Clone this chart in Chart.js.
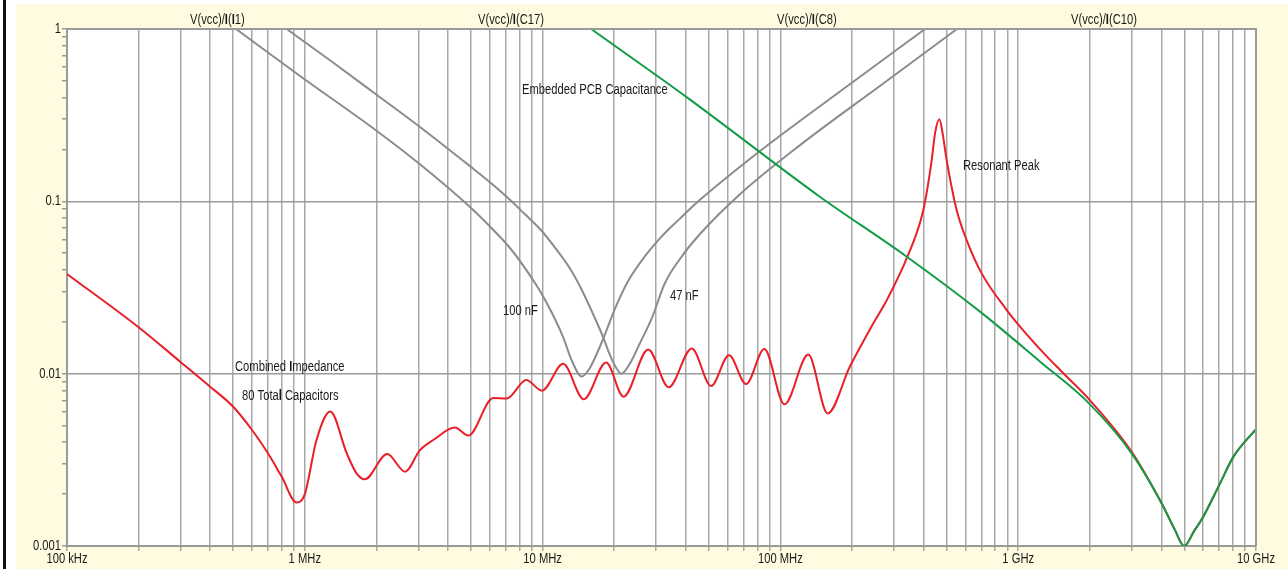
<!DOCTYPE html>
<html>
<head>
<meta charset="utf-8">
<script src="https://cdn.jsdelivr.net/npm/chart.js@4/dist/chart.umd.min.js"></script>
<style>
  html, body { margin: 0; padding: 0; background: #fff; }
  #wrap { position: relative; width: 1288px; height: 569px; }
</style>
</head>
<body>
<div id="wrap"><canvas id="chart"></canvas></div>
<script>
// ── Data (frequency in Hz, impedance in ohms) ─────────────────────────
const redFreq = [1.00e5, 2.00e5, 3.00e5, 4.00e5, 5.00e5, 6.00e5, 7.00e5, 8.00e5, 9.23e5, 1.00e6,
  1.12e6, 1.28e6, 1.50e6, 1.65e6, 1.79e6, 2.22e6, 2.64e6, 3.05e6, 3.47e6, 4.28e6,
  4.87e6, 6.20e6, 7.06e6, 8.54e6, 9.94e6, 1.22e7, 1.49e7, 1.85e7, 2.19e7, 2.78e7,
  3.39e7, 4.24e7, 5.11e7, 6.08e7, 7.17e7, 8.56e7, 1.04e8, 1.31e8, 1.58e8, 1.96e8,
  2.46e8, 2.80e8, 3.42e8, 3.99e8, 4.33e8, 4.47e8, 4.66e8, 4.81e8, 5.00e8, 5.51e8,
  6.07e8, 7.02e8, 8.95e8, 1.02e9, 1.24e9, 1.50e9, 2.00e9, 3.00e9, 4.01e9, 4.56e9,
  4.99e9, 5.49e9, 6.00e9, 7.06e9, 8.03e9, 1.00e10];
const redZ = [0.0379, 0.0186, 0.0117, 0.00840, 0.00643, 0.00471, 0.00345, 0.00252, 0.00179, 0.00200,
  0.00412, 0.00603, 0.00346, 0.00264, 0.00244, 0.00342, 0.00270, 0.00360, 0.00412, 0.00487,
  0.00437, 0.00722, 0.00717, 0.00918, 0.00796, 0.0114, 0.00711, 0.0116, 0.00735, 0.0138,
  0.00833, 0.0140, 0.00848, 0.0128, 0.00870, 0.0139, 0.00664, 0.0129, 0.00588, 0.0110,
  0.0196, 0.0267, 0.0477, 0.0890, 0.174, 0.248, 0.299, 0.248, 0.174, 0.0890,
  0.0596, 0.0382, 0.0234, 0.0187, 0.0138, 0.0105, 0.00703, 0.00352, 0.00177, 0.00124,
  0.00100, 0.00122, 0.00148, 0.00231, 0.00329, 0.00477];

const greenFreq = [1.60e7, 4.10e7, 1.47e8, 3.40e8, 6.91e8, 1.24e9, 2.00e9, 3.00e9, 4.01e9, 4.56e9,
  4.99e9, 5.49e9, 6.00e9, 7.06e9, 8.03e9, 1.00e10];
const greenZ = [1.0, 0.396, 0.106, 0.0477, 0.0229, 0.0117, 0.00666, 0.00345, 0.00177, 0.00124,
  0.00100, 0.00122, 0.00148, 0.00231, 0.00329, 0.00477];

// 100 nF branch
const capAFreq = [5.14e5, 9.55e5, 2.01e6, 3.05e6, 4.95e6, 6.01e6, 7.29e6, 8.43e6, 9.75e6, 1.095e7,
  1.22e7, 1.33e7, 1.46e7, 1.58e7, 1.79e7, 2.02e7, 2.29e7, 2.70e7, 3.12e7, 3.78e7,
  4.59e7, 8.21e7, 1.78e8, 4.06e8];
const capAZ = [1.0, 0.534, 0.256, 0.164, 0.0927, 0.0714, 0.0536, 0.0410, 0.0302, 0.0225,
  0.0163, 0.0118, 0.00962, 0.0108, 0.0157, 0.0240, 0.0345, 0.0482, 0.0612, 0.0794,
  0.102, 0.196, 0.434, 1.0];

// 47 nF branch
const capBFreq = [8.39e5, 1.28e6, 2.01e6, 3.05e6, 4.95e6, 6.01e6, 7.29e6, 8.43e6, 9.75e6, 1.128e7,
  1.30e7, 1.46e7, 1.63e7, 1.79e7, 1.96e7, 2.15e7, 2.35e7, 2.57e7, 2.88e7, 3.27e7,
  3.78e7, 4.59e7, 6.76e7, 1.21e8, 2.62e8, 5.53e8];
const capBZ = [1.0, 0.656, 0.414, 0.270, 0.160, 0.129, 0.102, 0.0841, 0.0691, 0.0539,
  0.0410, 0.0307, 0.0222, 0.0165, 0.0120, 0.0100, 0.0117, 0.0151, 0.0210, 0.0336,
  0.0463, 0.0646, 0.110, 0.212, 0.467, 1.0];

// ── Axes ──────────────────────────────────────────────────────────────
const xDecades = [1e5, 1e6, 1e7, 1e8, 1e9, 1e10];
const xTickLabels = ['100 kHz', '1 MHz', '10 MHz', '100 MHz', '1 GHz', '10 GHz'];
const yDecades = [0.001, 0.01, 0.1, 1];
const yTickLabels = ['0.001', '0.01', '0.1', '1'];

// ── Annotations (text parts [text, bold], left x, middle y) ──────────
const traceNames = [
  [['V(vcc)/', 0], ['I', 1], ['(', 0], ['I', 1], ['1)', 0]],
  [['V(vcc)/', 0], ['I', 1], ['(C17)', 0]],
  [['V(vcc)/', 0], ['I', 1], ['(C8)', 0]],
  [['V(vcc)/', 0], ['I', 1], ['(C10)', 0]],
];
const traceNameX = [190, 478, 777, 1071];
const notes = [
  { parts: [['Embedded PCB Capacitance', 0]], x: 522, y: 90 },
  { parts: [['100 nF', 0]], x: 503, y: 311 },
  { parts: [['47 nF', 0]], x: 670, y: 296 },
  { parts: [['Combined ', 0], ['I', 1], ['mpedance', 0]], x: 235, y: 367 },
  { parts: [['80 Tota', 0], ['l', 1], [' Capacitors', 0]], x: 242, y: 396 },
  { parts: [['Resonant Peak', 0]], x: 963, y: 166 },
];

const FONT = "'Liberation Sans', Arial, sans-serif";
const SX = 0.8; // condensed look
const CREAM = '#fefbe0';

function pts(xs, ys) { return xs.map((x, i) => ({ x, y: ys[i] })); }
function withMinors(decades) {
  const out = [];
  decades.forEach((d, i) => {
    out.push(d);
    if (i < decades.length - 1) for (let m = 2; m <= 9; m++) out.push(d * m);
  });
  return out;
}
function isDecade(v) {
  const l = Math.log10(v);
  return Math.abs(l - Math.round(l)) < 1e-6;
}
// draw condensed text made of plain/bold parts
function drawRich(ctx, parts, x, y, size, align) {
  ctx.save();
  ctx.textBaseline = 'middle';
  ctx.textAlign = 'left';
  let w = 0;
  parts.forEach(([t, b]) => { ctx.font = (b ? 'bold ' : '') + size + 'px ' + FONT; w += ctx.measureText(t).width; });
  let x0 = align === 'center' ? x - w * SX / 2 : align === 'right' ? x - w * SX : x;
  ctx.translate(x0, y);
  ctx.scale(SX, 1);
  let cx = 0;
  parts.forEach(([t, b]) => {
    ctx.font = (b ? 'bold ' : '') + size + 'px ' + FONT;
    ctx.fillText(t, cx, 0);
    cx += ctx.measureText(t).width;
  });
  ctx.restore();
}

const framePlugin = {
  id: 'frame',
  beforeDraw(chart) {
    const { ctx, chartArea: a, width, height } = chart;
    ctx.save();
    ctx.fillStyle = '#fff';
    ctx.fillRect(0, 0, width, height);
    ctx.fillStyle = CREAM;
    ctx.fillRect(16, 4, width - 16, height - 4);
    ctx.fillStyle = '#111';
    ctx.fillRect(3, 0, 3, height);
    ctx.fillStyle = '#fff';
    ctx.fillRect(a.left, a.top, a.right - a.left, a.bottom - a.top);
    ctx.restore();
  },
  afterDraw(chart) {
    const { ctx, chartArea: a, scales } = chart;
    ctx.save();
    ctx.strokeStyle = '#9a9a9a';
    ctx.lineWidth = 2;
    ctx.beginPath();
    ctx.moveTo(a.left, a.top); ctx.lineTo(a.right, a.top); ctx.lineTo(a.right, a.bottom);
    ctx.stroke();
    ctx.fillStyle = '#1a1a1a';
    xDecades.forEach((v, i) => drawRich(ctx, [[xTickLabels[i], 0]], scales.x.getPixelForValue(v), 559, 14, 'center'));
    yDecades.forEach((v, i) => drawRich(ctx, [[yTickLabels[i], 0]], 61, scales.y.getPixelForValue(v), 14, 'right'));
    traceNames.forEach((p, i) => drawRich(ctx, p, traceNameX[i], 20, 14, 'left'));
    notes.forEach(n => drawRich(ctx, n.parts, n.x, n.y, 14, 'left'));
    ctx.restore();
  },
};

const line = (data, color, order) => ({
  data, borderColor: color, borderWidth: 2, pointRadius: 0,
  cubicInterpolationMode: 'monotone', fill: false, order,
});

new Chart(document.getElementById('chart'), {
  type: 'line',
  data: {
    datasets: [
      line(pts(greenFreq, greenZ), '#129c48', 0),
      line(pts(redFreq, redZ), '#e8202a', 1),
      line(pts(capAFreq, capAZ), '#8c8c8c', 2),
      line(pts(capBFreq, capBZ), '#8c8c8c', 3),
    ],
  },
  options: {
    responsive: true,
    maintainAspectRatio: false,
    animation: false,
    layout: { padding: { left: 0, top: 29, right: 32, bottom: 0 } },
    plugins: { legend: { display: false }, tooltip: { enabled: false } },
    scales: {
      x: {
        type: 'logarithmic', min: 1e5, max: 1e10,
        afterBuildTicks: s => { s.ticks = withMinors(xDecades).map(v => ({ value: v })); },
        afterFit: s => { s.height = 23; },
        border: { color: '#9a9a9a', width: 2 },
        grid: { color: '#a8a8a8', lineWidth: 1.5, tickLength: 5, tickColor: '#a8a8a8' },
        ticks: { display: false, autoSkip: false },
      },
      y: {
        type: 'logarithmic', min: 0.001, max: 1,
        afterBuildTicks: s => { s.ticks = withMinors(yDecades).map(v => ({ value: v })); },
        afterFit: s => { s.width = 67; },
        border: { color: '#9a9a9a', width: 2 },
        grid: {
          color: c => isDecade(c.tick.value) ? '#9a9a9a' : 'rgba(0,0,0,0)',
          lineWidth: 1.5, tickLength: 5, tickColor: '#9a9a9a',
        },
        ticks: { display: false, autoSkip: false },
      },
    },
  },
  plugins: [framePlugin],
});
</script>
</body>
</html>
